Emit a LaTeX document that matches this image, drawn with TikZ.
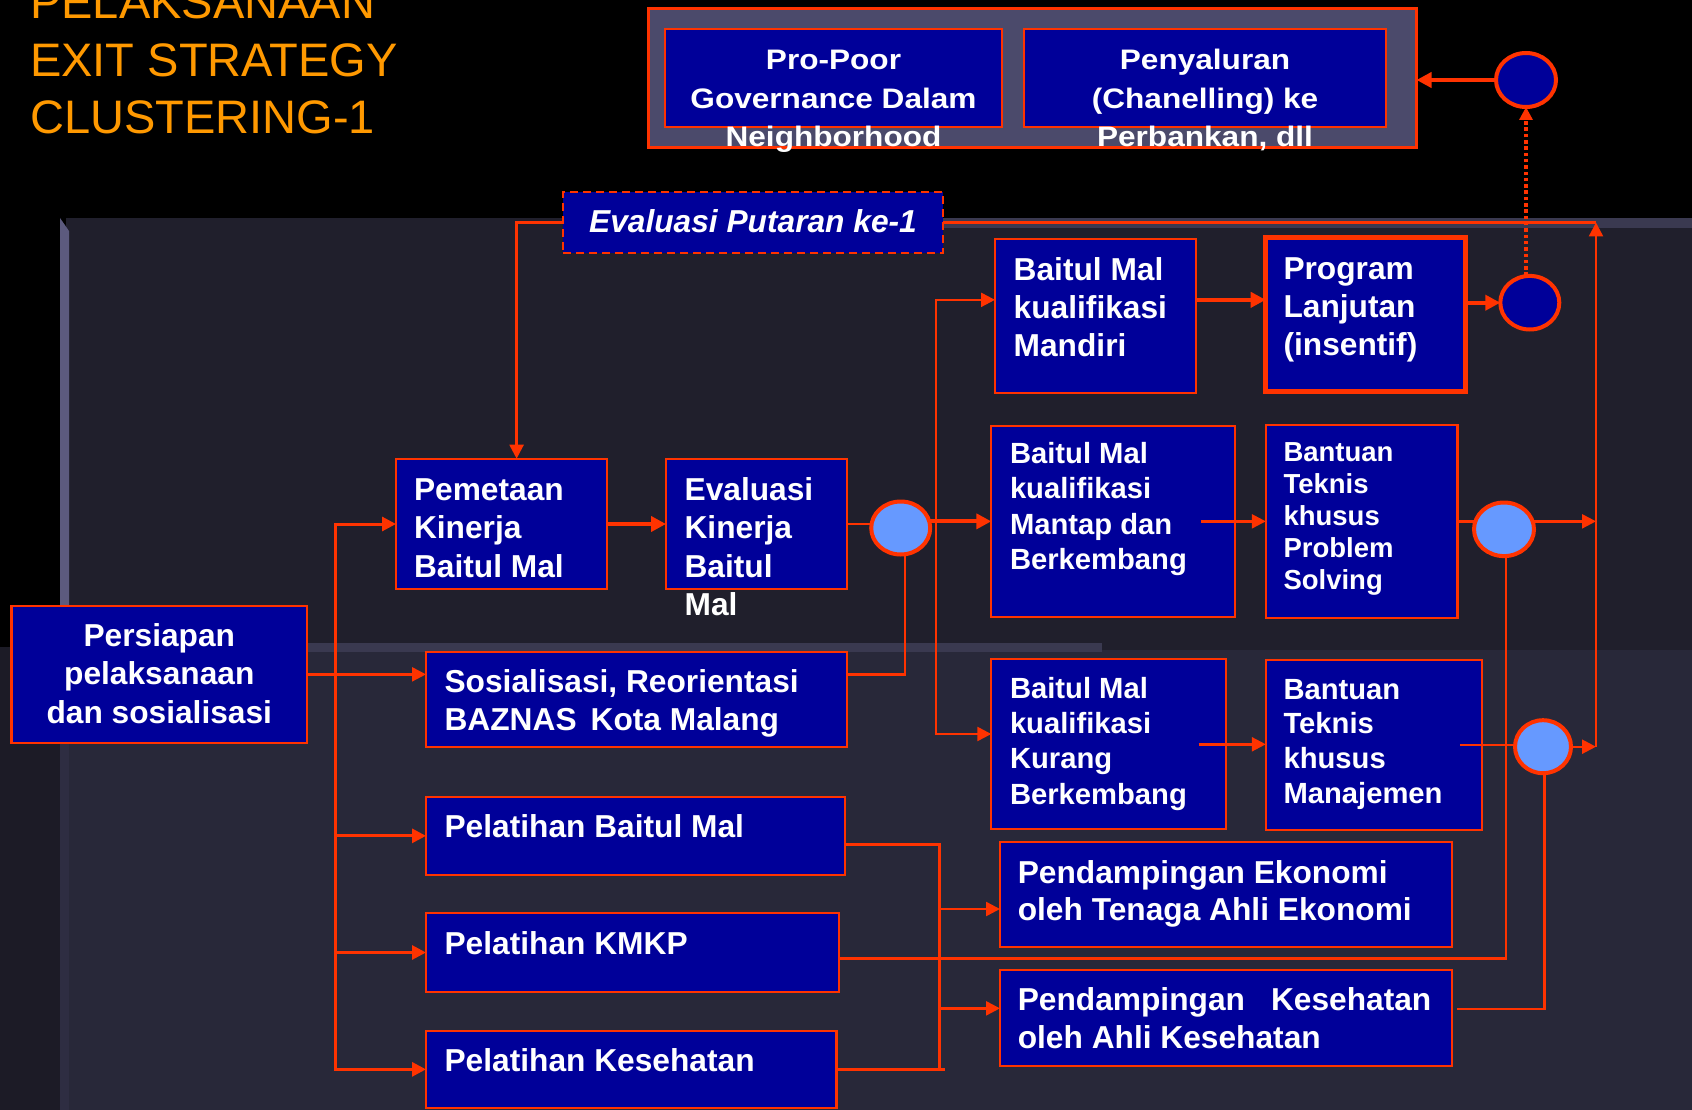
\documentclass[tikz,border=0pt]{standalone}
\usepackage{fontspec}
\setmainfont{Liberation Sans}
\newfontfamily\widefont[FakeStretch=1.12]{Liberation Sans}
\usetikzlibrary{arrows.meta,shapes.geometric}
\definecolor{myred}{HTML}{FF3300}
\definecolor{myblue}{HTML}{000099}
\definecolor{lightc}{HTML}{6699FF}
\definecolor{titleor}{HTML}{FF9900}
\definecolor{contfill}{HTML}{4B4A6B}
\definecolor{panA}{HTML}{201F2C}
\definecolor{panB}{HTML}{282839}
\definecolor{panL}{HTML}{1C1B26}
\definecolor{stripA}{HTML}{5C5A7E}
\definecolor{stripB}{HTML}{2E2D42}
\definecolor{bandc}{HTML}{3A3950}
\newcommand{\ml}[1]{\vtop{\halign{##\hfil\cr#1\crcr}}}
\newcommand{\mc}[1]{\vtop{\halign{\hfil##\hfil\cr#1\crcr}}}
\begin{document}
\begin{tikzpicture}[x=1pt,y=-1pt,
  box/.style={rectangle,draw=myred,fill=myblue,line width=2.2pt,inner sep=0pt,outer sep=0pt},
  circ/.style={ellipse,draw=myred,line width=4pt,inner sep=0pt,outer sep=0pt},
  txt/.style={text=white,inner sep=0pt,outer sep=0pt,anchor=base west,font=\bfseries\fontsize{31.7}{38.2}\selectfont},
  txtm/.style={txt,font=\bfseries\fontsize{29.2}{35.3}\selectfont},
  conn/.style={draw=myred,line width=2.4pt},
  arr/.style={conn,-{Triangle[length=14pt,width=14pt]}},
  tarr/.style={conn,line width=4pt,-{Triangle[length=15pt,width=15pt]}},
  dotarr/.style={conn,line width=3.2pt,dash pattern=on 3.5pt off 2.8pt,-{Triangle[length=13pt,width=13pt]}}]
\useasboundingbox (0,0) rectangle (1692,1110);
% background
\fill[black] (0,0) rectangle (1692,1110);
\fill[panA] (66,218) rectangle (1692,650);
\fill[panB] (66,650) rectangle (1692,1110);
\fill[panL] (0,647) rectangle (60,1110);
\fill[stripA] (60,218) -- (69,231) -- (69,647) -- (60,647) -- cycle;
\fill[stripB] (60,647) rectangle (69,1110);
\fill[bandc] (69,643) rectangle (1102,652);
\fill[bandc] (943,218) rectangle (1692,228);
% title
\node[inner sep=0pt,anchor=base west,text=titleor,font=\fontsize{47}{57.5}\selectfont] (title) at (30,19)
  {\ml{PELAKSANAAN\cr EXIT STRATEGY\cr CLUSTERING-1}};
% top container
\node[box,fill=contfill,line width=3.5pt,minimum width=768pt,minimum height=139pt] (cont) at (1032.5,78) {};
\node[box,minimum width=337pt,minimum height=98pt] (pp) at (833.5,78) {};
\node[box,minimum width=362pt,minimum height=98pt] (pe) at (1205,78) {};
\node[txt,anchor=base,font=\widefont\bfseries\fontsize{28.2}{38.5}\selectfont] (pptx) at (833.5,70)
  {\mc{Pro-Poor\cr Governance Dalam\cr Neighborhood}};
\node[txt,anchor=base,font=\widefont\bfseries\fontsize{28.2}{38.5}\selectfont] (petx) at (1205,70)
  {\mc{Penyaluran\cr (Chanelling) ke\cr Perbankan, dll}};
% boxes
\node[box,dash pattern=on 8pt off 5pt,line width=2.5pt,minimum width=380pt,minimum height=61pt] (ev) at (753,222.5) {};
\node[txt,anchor=base,font=\bfseries\itshape\fontsize{31.7}{38.2}\selectfont] (evtx) at (753,232.5) {Evaluasi Putaran ke-1};
\node[box,minimum width=210.8pt,minimum height=130.6pt] (pem) at (501.4,524) {};
\node[box,minimum width=180.7pt,minimum height=130.6pt] (evk) at (756.35,524) {};
\node[box,minimum width=295.5pt,minimum height=136.7pt] (per) at (159.25,674.35) {};
\node[box,minimum width=420.7pt,minimum height=94.4pt] (sos) at (636.35,699.5) {};
\node[box,minimum width=419pt,minimum height=78.3pt] (pbm) at (635.5,835.85) {};
\node[box,minimum width=413.3pt,minimum height=78.4pt] (pkm) at (632.65,952.5) {};
\node[box,minimum width=410.4pt,minimum height=77.3pt] (pks) at (631.2,1069.35) {};
\node[box,minimum width=452.2pt,minimum height=105pt] (pek) at (1226.1,894.2) {};
\node[box,minimum width=452.2pt,minimum height=95.7pt] (pkh) at (1226.1,1017.85) {};
\node[box,minimum width=200.9pt,minimum height=153.7pt] (man) at (1095.45,315.85) {};
\node[box,line width=5pt,minimum width=199.6pt,minimum height=154.3pt] (prg) at (1365.5,314.65) {};
\node[box,minimum width=244pt,minimum height=190.7pt] (mtp) at (1113.3,521.35) {};
\node[box,minimum width=191.6pt,minimum height=192.7pt] (ps) at (1361.6,521.35) {};
\node[box,minimum width=234.7pt,minimum height=170pt] (kur) at (1108.65,744.3) {};
\node[box,minimum width=216pt,minimum height=170pt] (mnj) at (1373.8,745) {};
% circles
\node[circ,fill=lightc,minimum width=59pt,minimum height=53pt] (c1) at (900.7,528) {};
\node[circ,fill=myblue,minimum width=59pt,minimum height=53.6pt] (c2) at (1529.8,302.7) {};
\node[circ,fill=lightc,minimum width=60pt,minimum height=53.6pt] (c3) at (1504,529.3) {};
\node[circ,fill=lightc,minimum width=56pt,minimum height=53pt] (c4) at (1543,746.7) {};
\node[circ,fill=myblue,minimum width=60pt,minimum height=54pt] (c5) at (1526,80) {};
% texts
\node[txt] (pemtx) at (414,500.7) {\ml{Pemetaan\cr Kinerja\cr Baitul Mal}};
\node[txt] (evktx) at (684.6,500.7) {\ml{Evaluasi\cr Kinerja\cr Baitul\cr Mal}};
\node[txt,anchor=base] (pertx) at (159.3,646.7) {\mc{Persiapan\cr pelaksanaan\cr dan sosialisasi}};
\node[txt] (sostx) at (444.6,692.7) {\ml{Sosialisasi, Reorientasi\cr BAZNAS\hspace{14pt}Kota Malang}};
\node[txt] (pbmtx) at (444.6,837.3) {Pelatihan Baitul Mal};
\node[txt] (pkmtx) at (444.6,954) {Pelatihan KMKP};
\node[txt] (pkstx) at (444.6,1071.7) {Pelatihan Kesehatan};
\node[txt,font=\bfseries\fontsize{31.7}{37.4}\selectfont] (pektx) at (1017.8,883.3) {\ml{Pendampingan Ekonomi\cr oleh Tenaga Ahli Ekonomi}};
\node[txt,font=\bfseries\fontsize{31.7}{37.6}\selectfont] (pkhtx) at (1017.8,1010.7) {\ml{Pendampingan\hspace{26pt}Kesehatan\cr oleh Ahli Kesehatan}};
\node[txt] (mantx) at (1013.7,280) {\ml{Baitul Mal\cr kualifikasi\cr Mandiri}};
\node[txt] (prgtx) at (1283.5,279.3) {\ml{Program\cr Lanjutan\cr (insentif)}};
\node[txtm,font=\bfseries\fontsize{29.2}{35.5}\selectfont] (mtptx) at (1010,463.3) {\ml{Baitul Mal\cr kualifikasi\cr Mantap dan\cr Berkembang}};
\node[txtm] (kurtx) at (1010,698.3) {\ml{Baitul Mal\cr kualifikasi\cr Kurang\cr Berkembang}};
\node[txt,font=\bfseries\fontsize{27.5}{32}\selectfont] (pstx) at (1283.5,461.7) {\ml{Bantuan\cr Teknis\cr khusus\cr Problem\cr Solving}};
\node[txtm,font=\bfseries\fontsize{29.2}{34.8}\selectfont] (mnjtx) at (1283.5,699) {\ml{Bantuan\cr Teknis\cr khusus\cr Manajemen}};
% coordinates
\coordinate (rvtop) at (1596,222.5);
\coordinate (rvbot) at (1596,746.7);
\coordinate (pemin) at (516.6,458.7);
\coordinate (sp) at (936,521.35);
\coordinate (manin) at ([yshift=16]man.west);
\coordinate (manout) at ([yshift=16]man.east);
\coordinate (kurin) at ([yshift=10.3]kur.west);
\coordinate (mtpout) at ([xshift=-34.3]mtp.east);
\coordinate (kurout) at ([xshift=-27.5]kur.east);
\coordinate (mnjout) at ([xshift=-22]mnj.east);
\coordinate (sosout) at (sos.east |- per.east);
\coordinate (c1b) at ([xshift=4.2]c1.south);
\coordinate (tr) at (335.8,674.35);
\coordinate (ct) at (939.6,844.3);
\coordinate (cb) at (939.6,1069.35);
\coordinate (pekin) at ([yshift=-14.8]pek.west);
\coordinate (pkhin) at ([yshift=9.5]pkh.west);
\coordinate (pkmout) at ([yshift=-5.8]pkm.east);
\coordinate (c3b) at ([xshift=2]c3.south);
\coordinate (pkhout) at ([xshift=5,yshift=8.85]pkh.east);
\coordinate (c4b) at ([xshift=1.4]c4.south);
% connectors
\draw[arr] (ev.west) -| (pemin);
\draw[conn] (ev.east) -- (rvtop);
\draw[arr] (rvbot) -- (rvtop);
\draw[tarr] (pem.east) -- (evk.west);
\draw[conn] (evk.east) -- (evk.east -| c1.west);
\draw[tarr] (c1.east |- mtp.west) -- (mtp.west);
\draw[arr] (sp) |- (manin);
\draw[arr] (sp) |- (kurin);
\draw[tarr] (manout) -- (manout -| prg.west);
\draw[tarr] (c2.west -| prg.east) -- (c2.west);
\draw[dotarr] (c5.south |- c2.north) -- (c5.south);
\draw[tarr] (c5.west) -- (c5.west -| cont.east);
\draw[arr] (mtpout) -- (ps.west);
\draw[arr] (kurout) -- (kurout -| mnj.west);
\draw[conn] (ps.east) -- (ps.east -| c3.west);
\draw[arr] (c3.east |- ps.east) -- (ps.east -| rvtop);
\draw[conn] (mnjout) -- (mnjout -| c4.west);
\draw[arr] (c4.east) -- (c4.east -| rvtop);
\draw[conn] (sosout) -| (c1b);
\draw[arr] (per.east) -- (per.east -| sos.west);
\draw[arr,line width=3pt] (tr) |- (pem.west);
\draw[arr,line width=3pt] (tr) |- (pbm.west);
\draw[arr,line width=3pt] (tr) |- (pkm.west);
\draw[arr,line width=3pt] (tr) |- (pks.west);
\draw[conn] (pbm.east |- ct) -- (ct) -- (cb);
\draw[conn] (pks.east) -- ([xshift=5]cb);
\draw[arr] (ct |- pekin) -- (pekin);
\draw[arr] (ct |- pkhin) -- (pkhin);
\draw[conn] (pkmout) -| (c3b);
\draw[conn] (pkhout) -| (c4b);
\end{tikzpicture}
\end{document}
